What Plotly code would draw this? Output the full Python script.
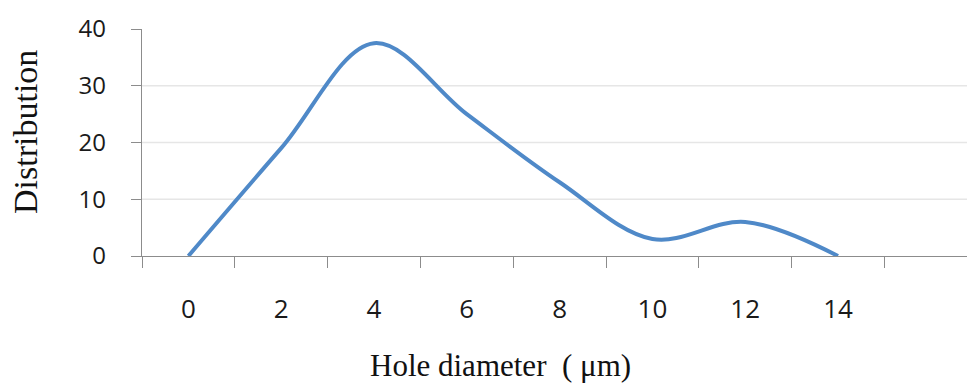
import plotly.graph_objects as go

hole_diameter = [0, 2, 4, 6, 8, 10, 12, 14]
distribution = [0, 19, 37.5, 25, 13, 3, 6, 0]
x_tick_vals = [0, 2, 4, 6, 8, 10, 12, 14]
y_tick_vals = [0, 10, 20, 30, 40]
grid_vals = [10, 20, 30]

W, H = 967, 384
ML, MR, MT, MB = 142, 0, 29, 128

fig = go.Figure()
fig.add_trace(go.Scatter(
    x=hole_diameter, y=distribution, mode="lines",
    line=dict(color="#4F89C8", width=4, shape="spline", smoothing=1.0),
    showlegend=False, hoverinfo="skip",
))

for g in grid_vals:
    fig.add_shape(type="line", xref="paper", yref="y", x0=0, x1=1, y0=g, y1=g,
                  line=dict(color="#E6E6E6", width=1.3), layer="below")

axis_gray = "#8C8C8C"
fig.update_layout(
    width=W, height=H,
    margin=dict(l=ML, r=MR, t=MT, b=MB),
    paper_bgcolor="white", plot_bgcolor="white",
    xaxis=dict(
        range=[-1, 16.78], tickmode="array", tickvals=x_tick_vals,
        ticktext=[str(v) for v in x_tick_vals],
        ticks="", showgrid=False, zeroline=False,
        showline=True, linecolor=axis_gray, linewidth=1.3,
        tickfont=dict(family="Open Sans", size=26, color="#1a1a1a"),
        ticklabelstandoff=30,
        minor=dict(tickmode="array", tickvals=[-1, 1, 3, 5, 7, 9, 11, 13, 15],
                   ticks="outside", ticklen=11, tickcolor=axis_gray,
                   tickwidth=1.3, showgrid=False),
    ),
    yaxis=dict(
        range=[0, 40], tickmode="array", tickvals=y_tick_vals,
        ticks="outside", ticklen=10, tickcolor=axis_gray, tickwidth=1.3,
        showgrid=False, zeroline=False,
        showline=True, linecolor=axis_gray, linewidth=1.3,
        tickfont=dict(family="Open Sans", size=24, color="#1a1a1a"),
        ticklabelstandoff=20,
    ),
    annotations=[
        dict(text="Distribution", xref="paper", yref="paper",
             x=(25 - ML) / (W - ML - MR), y=(256 - 132) / (H - MT - MB),
             xanchor="center", yanchor="middle", textangle=-90, showarrow=False,
             font=dict(family="Liberation Serif", size=34, color="#111")),
        dict(text="Hole diameter\u00a0\u00a0(\u00a0μm)", xref="paper", yref="paper",
             x=(500 - ML) / (W - ML - MR), y=(256 - 365) / (H - MT - MB),
             xanchor="center", yanchor="middle", showarrow=False,
             font=dict(family="Liberation Serif", size=31, color="#111")),
    ],
)

fig.write_html("out.html")
